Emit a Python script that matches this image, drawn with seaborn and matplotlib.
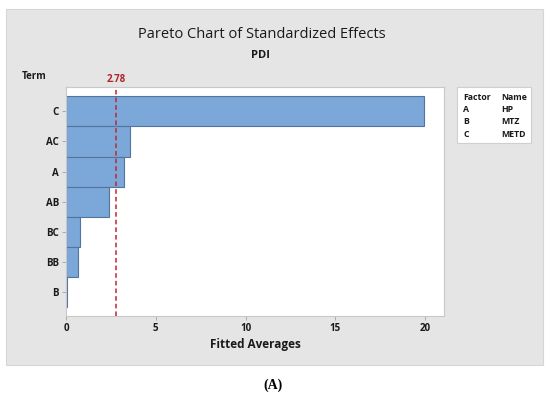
import matplotlib
matplotlib.use("Agg")
import matplotlib.pyplot as plt
import seaborn as sns
import pandas as pd
from matplotlib.patches import Rectangle
import matplotlib.transforms as mtransforms

terms = ["C", "AC", "A", "AB", "BC", "BB", "B"]
effects = [19.93, 3.57, 3.22, 2.40, 0.78, 0.69, 0.05]
ref_value = 2.78
factors = ["A", "B", "C"]
names = ["HP", "MTZ", "METD"]
xticks = [0, 5, 10, 15, 20]

sns.set_theme(style="white")
plt.rcParams["font.family"] = ["Open Sans", "DejaVu Sans"]

df = pd.DataFrame({"Term": terms, "Effect": effects})

TXT = "#1a1a1a"
W = "bold"

fig = plt.figure(figsize=(5.5, 3.98), dpi=100)
fig.patch.set_facecolor("white")
# grey panel
panel = Rectangle((6 / 550, 1 - 365 / 398), (543 - 6) / 550, (365 - 9) / 398,
                  transform=fig.transFigure, facecolor="#e5e5e5",
                  edgecolor="#d6d6d6", lw=0.8, zorder=-5)
fig.patches.append(panel)

ax = fig.add_axes([66 / 550, 1 - 316 / 398, (444 - 66) / 550, (316 - 87.3) / 398])
ax.set_zorder(3)
ax.set_facecolor("white")
sns.barplot(data=df, x="Effect", y="Term", orient="h", ax=ax, width=1.0,
            color="#7ba7d9", saturation=1, edgecolor="#55749c", linewidth=0.8)
ax.set_xlim(0, 21.05)
ax.set_ylim(6.8, -0.8)
ax.set_xticks(xticks)
ax.set_xticklabels([str(t) for t in xticks])
ax.tick_params(axis="both", which="both", length=3, width=0.6, color="#a0a0a0",
               labelsize=7, pad=2, left=True, bottom=True)
for lab in ax.get_xticklabels() + ax.get_yticklabels():
    lab.set_fontweight(W)
    lab.set_color(TXT)
for s in ax.spines.values():
    s.set_color("#c8c8c8")
    s.set_linewidth(0.8)
ax.set_xlabel("Fitted Averages", fontsize=8.5, fontweight=W, color=TXT, labelpad=3)
ax.set_ylabel("")

ax.axvline(ref_value, color="#c0262c", lw=1.1, ls=(0, (3, 2)), zorder=5)
trans = mtransforms.blended_transform_factory(ax.transData, ax.transAxes)
ax.text(ref_value, 1.012, f"{ref_value:.2f}", transform=trans, ha="center", va="bottom",
        color="#b0242a", fontsize=7, fontweight=W)

fig.text(262 / 550, 1 - 35 / 398, "Pareto Chart of Standardized Effects",
         ha="center", va="center", fontsize=10.5, color=TXT)
fig.text(260 / 550, 1 - 55 / 398, "PDI",
         ha="center", va="center", fontsize=8, fontweight=W, color=TXT)
fig.text(22 / 550, 1 - 76.5 / 398, "Term", ha="left", va="center", fontsize=7,
         fontweight=W, color=TXT)

# factor legend box
fig.patches.append(Rectangle((457 / 550, 1 - 143 / 398), (531 - 457) / 550, (143 - 87) / 398,
                             transform=fig.transFigure, facecolor="white",
                             edgecolor="#cfcfcf", lw=0.8, zorder=1))
fig.text(463 / 550, 1 - 97 / 398, "Factor", ha="left", va="center", fontsize=6.3,
         fontweight=W, color=TXT)
fig.text(501 / 550, 1 - 97 / 398, "Name", ha="left", va="center", fontsize=6.3,
         fontweight=W, color=TXT)
for i, (f, n) in enumerate(zip(factors, names)):
    y = 1 - (109.5 + 12.3 * i) / 398
    fig.text(463 / 550, y, f, ha="left", va="center", fontsize=6.3, fontweight=W, color=TXT)
    fig.text(501 / 550, y, n, ha="left", va="center", fontsize=6.3, fontweight=W, color=TXT)

fig.text(273 / 550, 1 - 385 / 398, "(A)", ha="center", va="center", fontsize=10,
         fontweight="bold", family="Liberation Serif", color="black")

fig.savefig("out.png", dpi=100)
